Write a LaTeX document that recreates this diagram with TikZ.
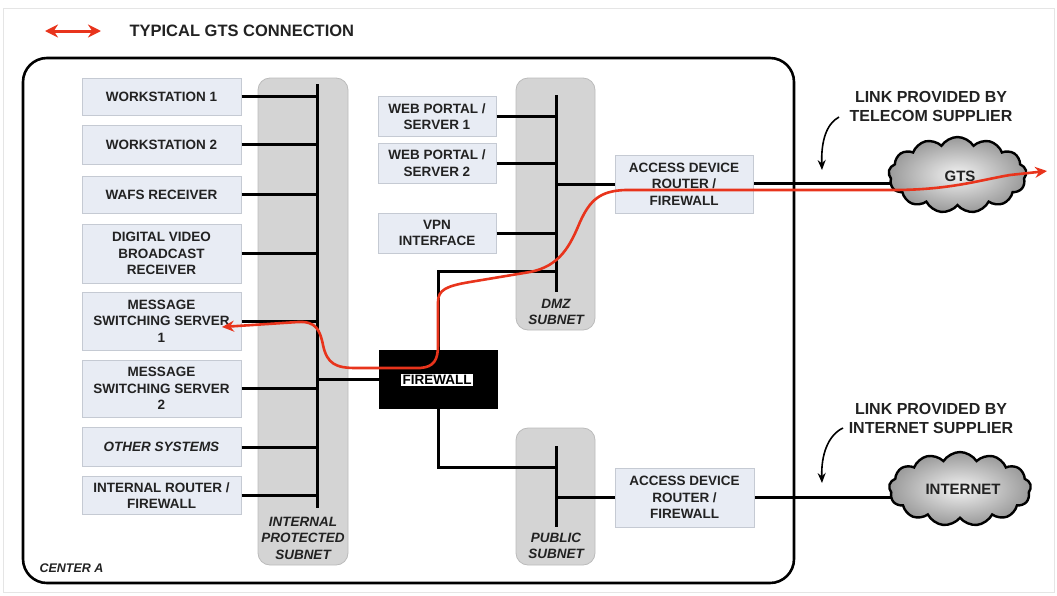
\documentclass[tikz,border=0pt]{standalone}
\usepackage{fontspec}
\setmainfont{Liberation Sans}
\usetikzlibrary{shapes.symbols,arrows.meta}
\definecolor{boxfill}{HTML}{E8ECF4}
\definecolor{boxline}{HTML}{C5CAD3}
\definecolor{subfill}{HTML}{D4D4D4}
\definecolor{subline}{HTML}{BBBBBB}
\definecolor{txt}{HTML}{222222}
\definecolor{gtsred}{HTML}{E8341C}
\pgfdeclarelayer{back}
\pgfdeclarelayer{mid}
\pgfsetlayers{back,mid,main}
\tikzset{
  box/.style={draw=boxline, fill=boxfill, line width=1pt, align=center,
    font=\bfseries\fontsize{13.5}{16.5}\selectfont, text=txt, inner sep=0pt},
  subnet/.style={draw=subline, fill=subfill, rounded corners=12pt, line width=0.8pt, inner sep=0pt},
  bus/.style={line width=3pt, black},
  sublabel/.style={font=\bfseries\itshape\fontsize{13.5}{16.5}\selectfont, align=center, text=txt},
  linklabel/.style={font=\bfseries\fontsize{16}{19}\selectfont, align=center, text=txt},
  gtspath/.style={gtsred, line width=2.6pt, {Stealth[length=12pt,width=11pt]}-{Stealth[length=12pt,width=11pt]}},
  netcloud/.style={cloud, cloud puffs=13, cloud puff arc=115, draw=black, line width=2.4pt,
    inner color=gray!10, outer color=gray!80, font=\bfseries\fontsize{15}{18}\selectfont, text=txt},
  callout/.style={line width=1.6pt, black, -{Stealth[length=10pt,width=8pt]}}
}
\begin{document}
\begin{tikzpicture}[x=1pt,y=-1pt]
\useasboundingbox (0,0) rectangle (1057,595);
\draw[gray!20, line width=0.8pt] (3,8) rectangle (1054,592);

% legend
\coordinate (legA) at (45,31);
\coordinate (legB) at (101,31);
\draw[gtsred, line width=3pt, {Stealth[length=13pt,width=13pt]}-{Stealth[length=13pt,width=13pt]}] (legA) -- (legB);
\node[anchor=west, font=\bfseries\fontsize{16.5}{19}\selectfont, text=txt] (title) at (126,31) {TYPICAL GTS CONNECTION};

% centre frame
\node[draw=black, line width=2.6pt, rounded corners=24pt, minimum width=771pt, minimum height=525pt, inner sep=0pt] (frame) at (408.5,320.5) {};
\node[anchor=west, font=\bfseries\itshape\fontsize{12.5}{15}\selectfont, text=txt] (centerA) at (36,568) {CENTER A};

% subnets
\begin{pgfonlayer}{back}
\node[subnet, minimum width=90pt, minimum height=487pt] (isub) at (303,321.5) {};
\node[subnet, minimum width=79pt, minimum height=252pt] (dsub) at (555.5,204) {};
\node[subnet, minimum width=79pt, minimum height=137pt] (psub) at (555.5,496.5) {};
\end{pgfonlayer}
\node[sublabel] (isubl) at (303,538) {INTERNAL\\PROTECTED\\SUBNET};
\node[sublabel] (dsubl) at (556,312) {DMZ\\SUBNET};
\node[sublabel] (psubl) at (556,546) {PUBLIC\\SUBNET};

% left boxes
\node[box, minimum width=159pt, minimum height=37pt] (ws1) at (161.5,96.5) {WORKSTATION 1};
\node[box, minimum width=159pt, minimum height=39pt] (ws2) at (161.5,144.5) {WORKSTATION 2};
\node[box, minimum width=159pt, minimum height=37pt] (wafs) at (161.5,194.5) {WAFS RECEIVER};
\node[box, minimum width=159pt, minimum height=59pt] (dvb) at (161.5,253.5) {DIGITAL VIDEO\\BROADCAST\\RECEIVER};
\node[box, minimum width=159pt, minimum height=58pt] (mss1) at (161.5,321) {MESSAGE\\SWITCHING SERVER\\1};
\node[box, minimum width=159pt, minimum height=57pt] (mss2) at (161.5,388.5) {MESSAGE\\SWITCHING SERVER\\2};
\node[box, minimum width=159pt, minimum height=39pt, font=\bfseries\itshape\fontsize{13.5}{16.5}\selectfont] (other) at (161.5,447) {OTHER SYSTEMS};
\node[box, minimum width=159pt, minimum height=38pt] (irouter) at (161.5,495.5) {INTERNAL ROUTER /\\FIREWALL};

% DMZ boxes
\node[box, minimum width=118pt, minimum height=40pt] (web1) at (437,116.5) {WEB PORTAL /\\SERVER 1};
\node[box, minimum width=118pt, minimum height=40pt] (web2) at (437,163) {WEB PORTAL /\\SERVER 2};
\node[box, minimum width=118pt, minimum height=40pt] (vpn) at (437,233) {VPN\\INTERFACE};

% access devices
\node[box, minimum width=138pt, minimum height=58pt] (acc1) at (684,184) {ACCESS DEVICE\\ROUTER /\\FIREWALL};
\node[box, minimum width=139pt, minimum height=59pt] (acc2) at (684.5,497.5) {ACCESS DEVICE\\ROUTER /\\FIREWALL};

% firewall
\node[fill=black, draw=black, minimum width=118pt, minimum height=58pt, inner sep=0pt] (fw) at (438,379) {};
\node[fill=white, inner sep=1.5pt, font=\bfseries\fontsize{13.5}{15}\selectfont, text=black] (fwl) at (437,380) {FIREWALL};

% clouds
\node[netcloud, minimum width=138pt, minimum height=76pt] (gts) at (957.5,175) {};
\node[font=\bfseries\fontsize{15}{18}\selectfont, text=txt] (gtsl) at (960,176) {GTS};
\node[netcloud, minimum width=142pt, minimum height=74pt] (inet) at (960,489) {};
\node[font=\bfseries\fontsize{15}{18}\selectfont, text=txt] (inetl) at (963,489) {INTERNET};

% internal bus
\coordinate (ibT) at (317,84);
\coordinate (ibB) at (317,508);
\draw[bus] (ibT) -- (ibB);
\foreach \n in {ws1,ws2,wafs,dvb,mss1,mss2,other,irouter}
  \draw[bus] (\n.east) -- (\n.east -| ibT);
\draw[bus] (fw.west) -- (fw.west -| ibT);

% DMZ bus
\coordinate (dbT) at (556,95);
\coordinate (dbB) at (556,292);
\draw[bus] (dbT) -- (dbB);
\foreach \n in {web1,web2,vpn}
  \draw[bus] (\n.east) -- (\n.east -| dbT);
\coordinate (dmzJ) at (556,271);
\draw[bus] (fw.north) |- (dmzJ);
\draw[bus] (acc1.west -| dbT) -- (acc1.west);

% public bus
\coordinate (pbT) at (556,446);
\coordinate (pbB) at (556,527);
\draw[bus] (pbT) -- (pbB);
\coordinate (pubJ) at (556,467);
\draw[bus] (fw.south) |- (pubJ);
\draw[bus] (acc2.west -| pbT) -- (acc2.west);

% links to clouds
\begin{pgfonlayer}{mid}
\draw[bus] ([yshift=1pt]acc1.east) -- ([yshift=1pt]acc1.east -| gts.center);
\draw[bus] (acc2.east) -- (acc2.east -| inet.center);
\end{pgfonlayer}

% link labels
\node[linklabel] (lnk1) at (931,106) {LINK PROVIDED BY\\TELECOM SUPPLIER};
\coordinate (c1a) at (839,117);
\coordinate (c1b) at (822,170);
\draw[callout] (c1a) .. controls (826,124) and (821,142) .. (c1b);
\node[linklabel] (lnk2) at (931,418) {LINK PROVIDED BY\\INTERNET SUPPLIER};
\coordinate (c2a) at (843,428);
\coordinate (c2b) at (822,483);
\draw[callout] (c2a) .. controls (828,435) and (821,455) .. (c2b);

% typical GTS connection path
\coordinate (redL) at (222,327);
\coordinate (redR) at (1047,171);
\draw[gtspath] (redL) -- (298,322)
  .. controls (316,321) and (320,330) .. (323,345)
  .. controls (327,364) and (336,368) .. (356,368)
  -- (420,368)
  .. controls (434,367) and (438,360) .. (438,345)
  -- (438,302)
  .. controls (438,290) and (446,286) .. (470,282)
  -- (530,272)
  .. controls (560,266) and (570,246) .. (580,222)
  .. controls (590,200) and (600,191) .. (625,190)
  -- (893,190)
  .. controls (950,190) and (980,180) .. (1010,175)
  -- (redR);
\end{tikzpicture}
\end{document}
